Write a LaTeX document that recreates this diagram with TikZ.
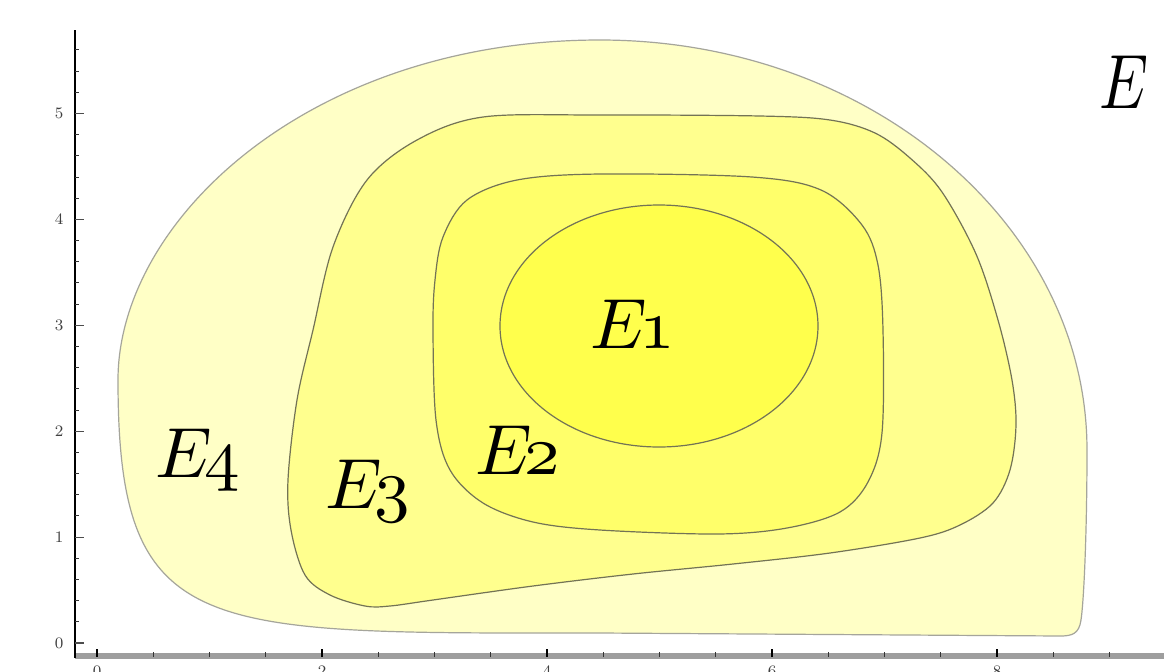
\documentclass[tikz,border=0pt]{standalone}
\font\labfont=cmmi10 at 35.5pt
\font\bigEfont=cmmi10 at 38.5pt
\definecolor{cfour}{RGB}{255,255,198}
\definecolor{cthree}{RGB}{255,255,142}
\definecolor{ctwo}{RGB}{255,255,106}
\definecolor{cone}{RGB}{255,255,76}
\definecolor{bfour}{RGB}{165,165,155}
\definecolor{binner}{RGB}{115,115,85}
\newcommand{\lbl}[1]{E\kern-1.5pt#1}
\begin{document}
\begin{tikzpicture}[x=0.5pt,y=-0.5pt,
  region/.style={line width=0.6pt},
  lab/.style={inner sep=0pt, anchor=base west, font=\labfont},
  ylab/.style={inner sep=0pt, font=\fontsize{8}{8}\selectfont, text=black!75},
  xlab/.style={inner sep=0pt, anchor=north, font=\fontsize{8}{8}\selectfont, text=black!75},
  ]
\clip (0,0) rectangle (1164,671);
\fill[white] (0,0) rectangle (1164,671);
% E4
\filldraw[region, fill=cfour, draw=bfour]
 (118,380) .. controls (118,220) and (310,40) .. (600,40)
 .. controls (869,40) and (1087,224) .. (1087,450)
 .. controls (1087,530) and (1084,600) .. (1081,620)
 .. controls (1079,634) and (1072,636) .. (1060,636)
 -- (600,633)
 .. controls (200,633) and (118,640) .. (118,380) -- cycle;
% E3
\filldraw[region, fill=cthree, draw=binner] plot[smooth cycle, tension=0.55] coordinates {
 (483,117) (600,115) (760,116) (830,120) (875,133) (910,158) (942,192) (976,254)
 (998,320) (1012,380) (1016,425) (1010,470) (993,503) (960,525) (920,538) (830,553)
 (733,564) (633,574) (533,586) (433,600) (390,606) (365,606) (330,595) (305,575)
 (291,530) (288,480) (297,400) (313,330) (333,247) (367,180) (417,140)};
% E2
\filldraw[region, fill=ctwo, draw=binner] plot[smooth cycle, tension=0.55] coordinates {
 (517,180) (600,174) (752,177) (821,190) (862,225) (878,265) (883,330) (882,433)
 (868,482) (840,512) (787,528) (718,534) (600,530) (533,522) (483,503) (450,470)
 (436,420) (433,330) (435,280) (443,237) (467,200)};
% E1
\filldraw[region, fill=cone, draw=binner] (659,326) ellipse [x radius=159, y radius=121];
% labels
\node[lab] (e1) at (590,348) {\lbl{1}};
\node[lab] (e2) at (475,474) {\lbl{2}};
\node[lab] (e3) at (325,508) {\lbl{3}};
\node[lab] (e4) at (155,477) {\lbl{4}};
\node[lab, font=\bigEfont] (ebig) at (1099,108) {\scalebox{0.8}[1]{E}};
% x axis
\draw[line width=3pt, black!38] (75,656) -- (1164,656);
\foreach \k in {0,...,18} {
  \pgfmathsetmacro{\xx}{97+56.25*\k}
  \pgfmathtruncatemacro{\md}{mod(\k,4)}
  \ifnum\md=0
    \draw[line width=0.6pt, black] (\xx,649) -- (\xx,657);
  \else
    \draw[line width=0.5pt, black!80] (\xx,652) -- (\xx,657);
  \fi
}
\foreach \k/\t in {0/0,1/2,2/4,3/6,4/8} {
  \node[xlab] (xl\k) at (97+225*\k,665) {\t};
}
% y axis
\draw[line width=1.4pt, black] (75,30) -- (75,658);
\foreach \j in {0,...,28} {
  \pgfmathsetmacro{\yy}{643-21.18*\j}
  \pgfmathtruncatemacro{\md}{mod(\j,5)}
  \ifnum\md=0
    \draw[line width=0.6pt, black!70] (75,\yy) -- (84,\yy);
  \else
    \draw[line width=0.5pt, black!80] (75,\yy) -- (79,\yy);
  \fi
}
\foreach \j in {0,...,5} {
  \node[ylab] (yl\j) at (59,643-105.9*\j) {\j};
}
\end{tikzpicture}
\end{document}
